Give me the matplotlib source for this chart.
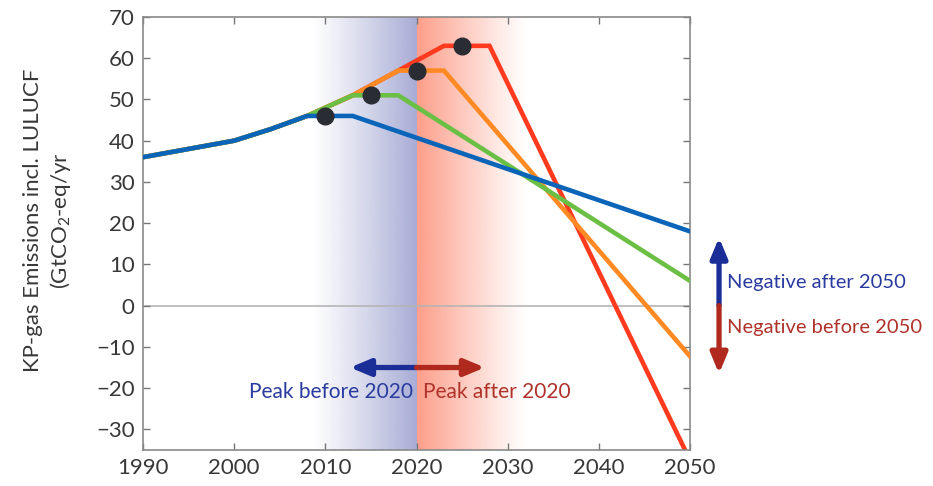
import numpy as np
import matplotlib
matplotlib.use("Agg")
import matplotlib.pyplot as plt

plt.rcParams['font.family'] = ['Lato', 'DejaVu Sans']
plt.rcParams['mathtext.fontset'] = 'custom'
plt.rcParams['mathtext.rm'] = 'Lato'
plt.rcParams['mathtext.it'] = 'Lato:italic'

# ---------------- data ----------------
blue_x = [1990, 2000, 2004, 2008, 2013, 2050]
blue_y = [36, 40, 42.8, 46, 46, 18]

green_x = [1990, 2000, 2004, 2008, 2013, 2018, 2050]
green_y = [36, 40, 42.8, 46, 51, 51, 6]

orange_x = [1990, 2000, 2004, 2008, 2013, 2018, 2023, 2050]
orange_y = [36, 40, 42.8, 46, 51, 57, 57, -12.3]

red_x = [1990, 2000, 2004, 2008, 2013, 2018, 2023, 2028, 2050]
red_y = [36, 40, 42.8, 46, 51, 57, 63, 63, -37.5]

peak_years = [2010, 2015, 2020, 2025]
peak_values = [46, 51, 57, 63]

x_ticks = [1990, 2000, 2010, 2020, 2030, 2040, 2050]
y_ticks = [-30, -20, -10, 0, 10, 20, 30, 40, 50, 60, 70]

# shading / annotation settings
split_year = 2020
blue_shade_start = 2008.5
red_shade_end = 2032
arrow_y = -15
arrow_left = 2012.7
arrow_right = 2027.5

c_blue = '#0a64b8'
c_green = '#6cbf45'
c_orange = '#ff8a24'
c_red = '#ff3a1e'
c_dot = '#2a2c33'
txt_blue = '#2a3ba0'
txt_red = '#b0332b'
arr_blue = '#1b2d97'
arr_red = '#b0291f'
gray = '#383838'

fig = plt.figure(figsize=(9.33, 4.86), dpi=100)
ax = fig.add_axes([0.1533, 0.0741, 0.5863, 0.891])

ax.set_xlim(1990, 2050)
ax.set_ylim(-35, 70)

# ---------------- gradient shading ----------------
n = 256
t = np.linspace(0, 1, n)
blue_rgb = np.array([168, 172, 213]) / 255.0
img_b = np.ones((1, n, 4))
img_b[0, :, :3] = blue_rgb
img_b[0, :, 3] = t ** 1.1
ax.imshow(img_b, extent=[blue_shade_start, split_year, -35, 70], aspect='auto',
          interpolation='bilinear', zorder=0)

red_rgb = np.array([253, 158, 138]) / 255.0
img_r = np.ones((1, n, 4))
img_r[0, :, :3] = red_rgb
img_r[0, :, 3] = (1 - t) ** 1.1
ax.imshow(img_r, extent=[split_year, red_shade_end, -35, 70], aspect='auto',
          interpolation='bilinear', zorder=0)

ax.axhline(0, color='#b5b5b5', lw=1.2, zorder=1)

# ---------------- lines ----------------
lw = 3.3
ax.plot(red_x, red_y, color=c_red, lw=lw, zorder=2, solid_joinstyle='miter')
ax.plot(orange_x, orange_y, color=c_orange, lw=lw, zorder=3, solid_joinstyle='miter')
ax.plot(green_x, green_y, color=c_green, lw=lw, zorder=4, solid_joinstyle='miter')
ax.plot(blue_x, blue_y, color=c_blue, lw=lw, zorder=5, solid_joinstyle='miter')
ax.plot(peak_years, peak_values, 'o', color=c_dot, ms=12, zorder=6)

# ---------------- axes style ----------------
ax.set_xticks(x_ticks)
ax.set_yticks(y_ticks)
ax.tick_params(direction='in', length=5, width=1, color='#777777',
               top=True, right=True, labelsize=16, labelcolor=gray, pad=6)
for s in ax.spines.values():
    s.set_color('#8a8a8a')
    s.set_linewidth(1.2)

ax.set_ylabel('KP-gas Emissions incl. LULUCF\n(GtCO$_2$-eq/yr', fontsize=16,
              color=gray, linespacing=1.25)
ax.yaxis.set_label_coords(-0.128, 0.53)

# ---------------- peak arrow ----------------
astyle = '-|>,head_length=1.2,head_width=0.5'
ax.annotate('', xy=(arrow_left, arrow_y), xytext=(split_year, arrow_y),
            arrowprops=dict(arrowstyle=astyle, color=arr_blue, lw=3.8,
                            shrinkA=0, shrinkB=0), zorder=7)
ax.annotate('', xy=(arrow_right, arrow_y), xytext=(split_year, arrow_y),
            arrowprops=dict(arrowstyle=astyle, color=arr_red, lw=3.8,
                            shrinkA=0, shrinkB=0), zorder=7)
ax.text(2019.6, -21, 'Peak before 2020', color=txt_blue, fontsize=15,
        ha='right', va='center', zorder=8)
ax.text(2020.7, -21, 'Peak after 2020', color=txt_red, fontsize=15,
        ha='left', va='center', zorder=8)

# ---------------- negative arrow (outside axes) ----------------
trans = ax.get_yaxis_transform()
ax.annotate('', xy=(1.053, 16.5), xytext=(1.053, 0), xycoords=trans, textcoords=trans,
            arrowprops=dict(arrowstyle=astyle, color=arr_blue, lw=3.8,
                            shrinkA=0, shrinkB=0),
            annotation_clip=False)
ax.annotate('', xy=(1.053, -16.5), xytext=(1.053, 0), xycoords=trans, textcoords=trans,
            arrowprops=dict(arrowstyle=astyle, color=arr_red, lw=3.8,
                            shrinkA=0, shrinkB=0),
            annotation_clip=False)
ax.text(1.068, 5.6, 'Negative after 2050', transform=trans, color=txt_blue,
        fontsize=14.5, ha='left', va='center', clip_on=False)
ax.text(1.068, -5.4, 'Negative before 2050', transform=trans, color=txt_red,
        fontsize=14.5, ha='left', va='center', clip_on=False)

fig.savefig('out.png', dpi=100)
